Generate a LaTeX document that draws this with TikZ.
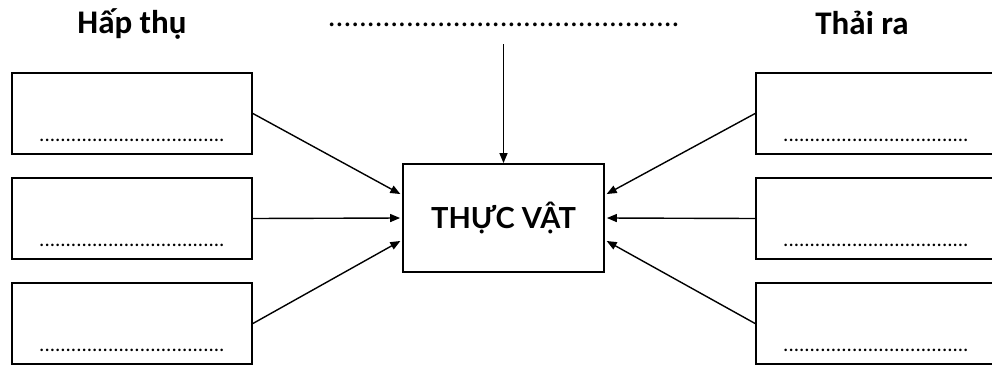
\documentclass[tikz,border=0pt]{standalone}
\usepackage{fontspec}
\setmainfont{Carlito}
\newfontfamily\plantfont{Lato}
\usetikzlibrary{arrows.meta}
\usetikzlibrary{positioning}

\tikzset{
  box/.style={draw, line width=1.8pt, minimum width=240pt, minimum height=81pt, inner sep=0pt},
  dotrow/.style={font=\fontsize{21}{21}\selectfont, inner sep=0pt, anchor=base},
  arr/.style={-{Triangle[length=10pt,width=8pt]}, line width=1.4pt, shorten >=2pt},
  title/.style={font=\bfseries\fontsize{33}{33}\selectfont, anchor=base},
}

\begin{document}
\begin{tikzpicture}[x=1pt, y=-1pt]
\path[use as bounding box, clip] (0,0) rectangle (992,372);

% titles
\node[title] (hapthu) at (132,33) {Hấp thụ};
\node[title] (thaira) at (862,34) {Thải ra};
\node[dotrow, font=\fontsize{31}{31}\selectfont] (topline) at (504,27) {.............................................};
\coordinate (topsrc) at (503.5,44);

% plant
\node[box, minimum width=201pt, minimum height=108pt, font=\plantfont\bfseries\fontsize{29}{29}\selectfont] (plant) at (503.5,218) {THỰC VẬT};
\draw[arr, shorten >=0pt] (topsrc) -- (plant.north);

% left side
\node[box] (in1) at (132,113.5) {};
\node[box] (in2) at (132,218.5) {};
\node[box] (in3) at (132,323.5) {};
\node[dotrow] (din1) at ([yshift=13pt]in1.south) {...................................};
\node[dotrow] (din2) at ([yshift=13pt]in2.south) {...................................};
\node[dotrow] (din3) at ([yshift=13pt]in3.south) {...................................};
\draw[arr] (in1.east) -- ([yshift=23pt]plant.west);
\draw[arr] (in2.east) -- (plant.west);
\draw[arr] (in3.east) -- ([yshift=-22pt]plant.west);

% right side
\node[box] (out1) at (876,113.5) {};
\node[box] (out2) at (876,218.5) {};
\node[box] (out3) at (876,323.5) {};
\node[dotrow] (dout1) at ([yshift=13pt]out1.south) {...................................};
\node[dotrow] (dout2) at ([yshift=13pt]out2.south) {...................................};
\node[dotrow] (dout3) at ([yshift=13pt]out3.south) {...................................};
\draw[arr] (out1.west) -- ([yshift=23pt]plant.east);
\draw[arr] (out2.west) -- (plant.east);
\draw[arr] (out3.west) -- ([yshift=-22pt]plant.east);
\end{tikzpicture}
\end{document}
